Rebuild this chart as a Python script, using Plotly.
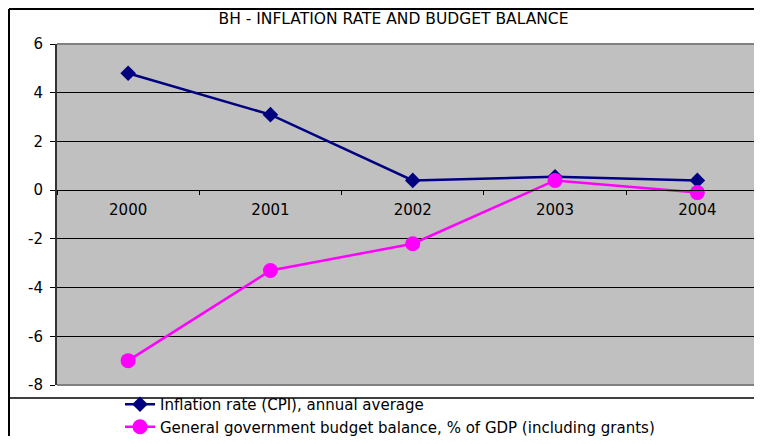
import plotly.graph_objects as go

years = ["2000", "2001", "2002", "2003", "2004"]
inflation = [4.8, 3.1, 0.4, 0.55, 0.4]
budget = [-7.0, -3.3, -2.2, 0.4, -0.1]
y_ticks = [-8, -6, -4, -2, 0, 2, 4, 6]
y_tick_text = ["-8", "-6", "-4", "-2", "0", "2", "4", "6"]

# page is rendered with an 8px body margin -> figure coords = page - 8
OFF = 8
W, H = 746, 428
L = 57 - OFF
T = 44 - OFF
B = H - (385 - OFF)
plot_w = W - L
plot_h = H - T - B
cat_px = 142.3
ymin, ymax = -8, 6

def px_x(page_x):
    return (page_x - OFF - L) / plot_w

def px_y(page_y):
    return (H - B - (page_y - OFF)) / plot_h

font = "DejaVu Sans, Liberation Sans, Arial, sans-serif"

fig = go.Figure()
fig.add_trace(go.Scatter(
    x=years, y=inflation, mode="lines+markers",
    name="Inflation rate (CPI), annual average",
    line=dict(color="#000080", width=2.5),
    marker=dict(symbol="diamond", size=12, color="#000080"),
    legendgroup="a",
))
fig.add_trace(go.Scatter(
    x=years, y=budget, mode="lines+markers",
    name="General government budget balance, % of GDP (including grants)",
    line=dict(color="#FF00FF", width=2.5),
    marker=dict(symbol="circle", size=15, color="#FF00FF"),
    legendgroup="b",
))

fig.update_layout(
    width=W, height=H, autosize=False,
    margin=dict(l=L, r=0, t=T, b=B, pad=0, autoexpand=False),
    paper_bgcolor="white",
    plot_bgcolor="#C0C0C0",
    font=dict(family=font, color="black", size=14),
    title=dict(text="BH - INFLATION RATE AND BUDGET BALANCE",
               x=(393.5 - OFF) / W, xref="container", xanchor="center",
               y=1 - (19 - OFF) / H, yref="container", yanchor="middle",
               font=dict(size=15.5, family=font, color="black")),
    showlegend=True,
    legend=dict(x=px_x(120), y=px_y(388), xanchor="left", yanchor="top",
                bgcolor="rgba(0,0,0,0)", font=dict(size=15, family=font),
                tracegroupgap=0, traceorder="grouped", maxheight=120),
    xaxis=dict(
        type="category",
        range=[-0.5, -0.5 + plot_w / cat_px],
        anchor="free",
        position=(0 - ymin) / (ymax - ymin),
        showline=True, linecolor="black", linewidth=1,
        ticks="outside", tickson="boundaries", ticklen=4, tickcolor="black",
        showgrid=False, zeroline=False,
        tickfont=dict(size=15, family=font),
        ticklabelstandoff=6,
    ),
    yaxis=dict(
        range=[ymin, ymax],
        tickvals=y_ticks, ticktext=y_tick_text,
        showline=True, linecolor="#333333", linewidth=2,
        ticks="outside", ticklen=5, tickcolor="black",
        showgrid=True, gridcolor="black", gridwidth=1,
        zeroline=True, zerolinecolor="black", zerolinewidth=1,
        tickfont=dict(size=15, family=font),
        ticklabelstandoff=4,
    ),
)

# plot area top/bottom borders
fig.add_shape(type="line", xref="paper", yref="paper", x0=0, x1=1, y0=1, y1=1,
              line=dict(color="#808080", width=2))
fig.add_shape(type="line", xref="paper", yref="paper", x0=0, x1=1, y0=0, y1=0,
              line=dict(color="#808080", width=2))
# outer chart border (left and top edges)
fig.add_shape(type="line", xref="paper", yref="paper",
              x0=px_x(OFF + 1), x1=px_x(OFF + 1), y0=px_y(OFF + 1), y1=px_y(OFF + H),
              line=dict(color="black", width=2))
fig.add_shape(type="line", xref="paper", yref="paper",
              x0=px_x(OFF + 1), x1=px_x(OFF + W), y0=px_y(OFF + 1), y1=px_y(OFF + 1),
              line=dict(color="black", width=2))
# legend separator
fig.add_shape(type="line", xref="paper", yref="paper",
              x0=px_x(OFF), x1=px_x(OFF + W), y0=px_y(398), y1=px_y(398),
              line=dict(color="black", width=1.5))

fig.write_html("out.html")
